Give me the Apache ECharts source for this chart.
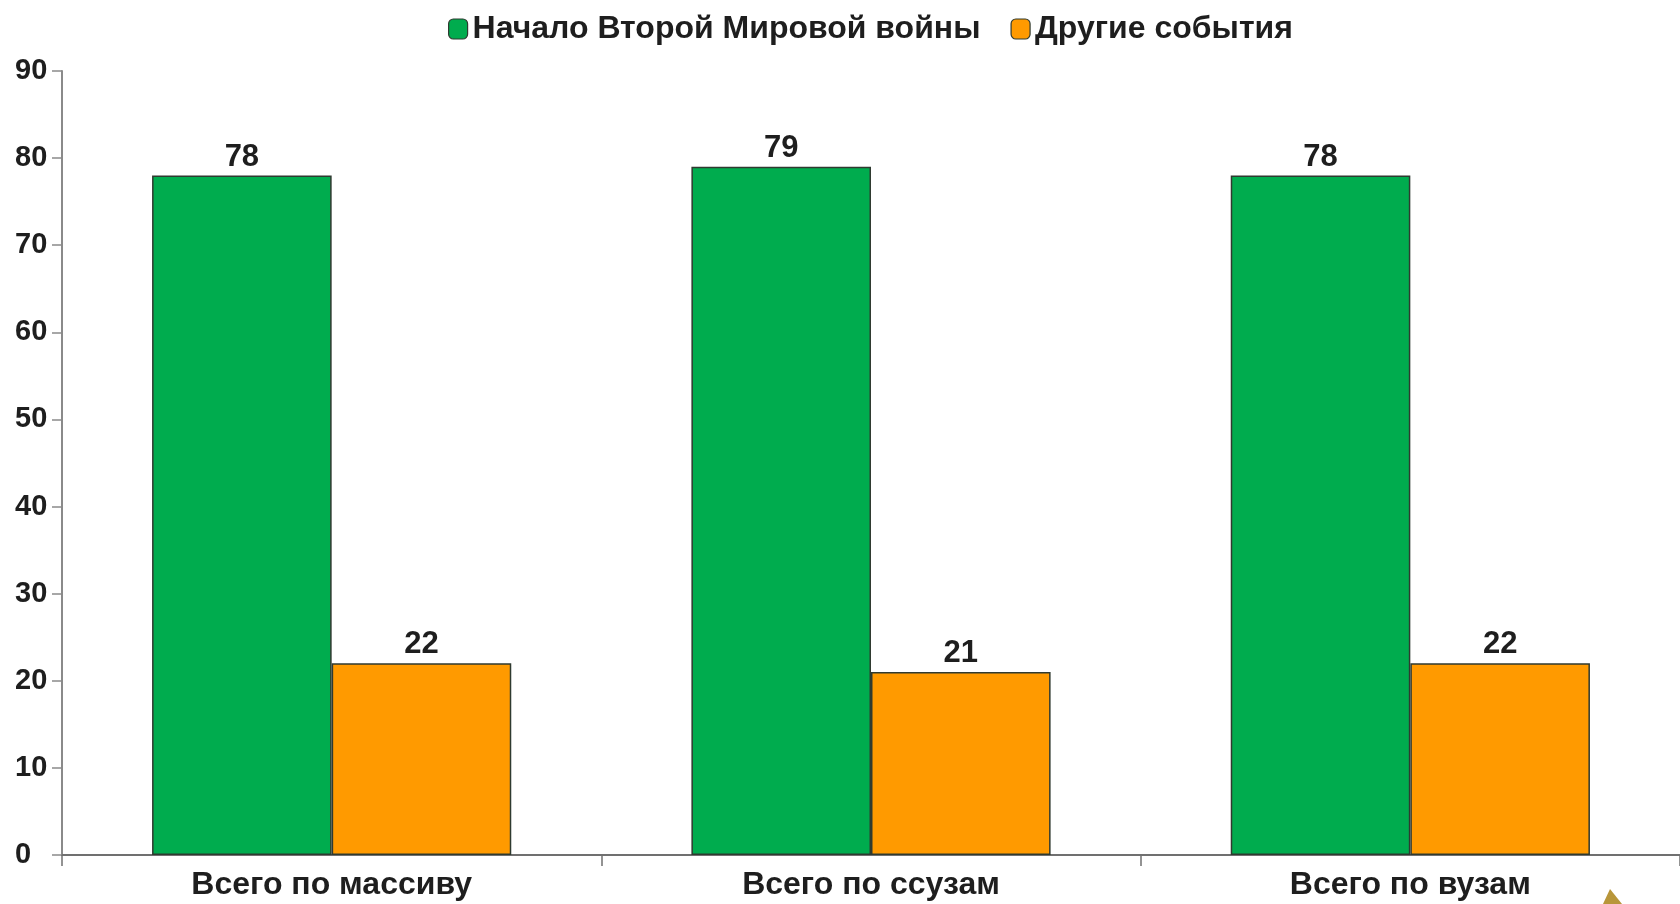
<!DOCTYPE html>
<html>
<head>
<meta charset="utf-8">
<style>html,body{margin:0;padding:0;background:#fff}#c{width:1680px;height:904px}</style>
<script src="https://cdn.jsdelivr.net/npm/echarts@6/dist/echarts.min.js"></script>
</head>
<body>
<div id="c"></div>
<script>
const categories = ['Всего по массиву', 'Всего по ссузам', 'Всего по вузам'];
const seriesNames = ['Начало Второй Мировой войны', 'Другие события'];
const warStart = [78, 79, 78];
const otherEvents = [22, 21, 22];
const yTicks = [0, 10, 20, 30, 40, 50, 60, 70, 80, 90];

const FONT = '"Liberation Sans", Arial, sans-serif';
const chart = echarts.init(document.getElementById('c'));
const barStyle = (color) => ({ color: color, borderColor: '#2f3a30', borderWidth: 1.5 });
const labelStyle = { show: true, position: 'top', distance: 3, fontFamily: FONT, fontSize: 31, color: '#1e1e1e', fontWeight: 'bold' };

chart.setOption({
  animation: false,
  textStyle: { fontFamily: FONT },
  legend: {
    top: 8, left: 443,
    itemWidth: 19, itemHeight: 20, itemGap: 30,
    icon: 'roundRect',
    itemStyle: { borderColor: '#2f3a30', borderWidth: 1.2 },
    textStyle: { fontFamily: FONT, fontSize: 32, color: '#1e1e1e', fontWeight: 'bold' },
    data: seriesNames
  },
  grid: { left: 62, right: -8, top: 71, bottom: 49 },
  xAxis: {
    type: 'category', data: categories,
    axisLine: { lineStyle: { color: '#707070', width: 2 } },
    axisTick: { show: true, length: 11, lineStyle: { color: '#707070', width: 1.5 } },
    axisLabel: { fontFamily: FONT, fontSize: 32, color: '#1e1e1e', fontWeight: 'bold', margin: 14 }
  },
  yAxis: {
    type: 'value', min: yTicks[0], max: yTicks[yTicks.length - 1], interval: 10,
    splitLine: { show: false },
    axisLine: { show: true, lineStyle: { color: '#8a8a8a', width: 2 } },
    axisTick: { show: true, length: 10, lineStyle: { color: '#8a8a8a', width: 1.5 } },
    axisLabel: { fontFamily: FONT, fontSize: 29, color: '#1e1e1e', fontWeight: 'bold', align: 'left', margin: 47 }
  },
  graphic: [{
    type: 'polygon', z: 100,
    shape: { points: [[1610, 889], [1603, 904], [1622, 904]] },
    style: { fill: '#b8963a' }
  }],
  series: [
    { name: seriesNames[0], type: 'bar', data: warStart, barGap: '0%', barCategoryGap: '33.4%', itemStyle: barStyle('#00ac4e'), label: labelStyle },
    { name: seriesNames[1], type: 'bar', data: otherEvents, barGap: '0%', barCategoryGap: '33.4%', itemStyle: barStyle('#ff9a00'), label: labelStyle }
  ]
});
</script>
</body>
</html>
